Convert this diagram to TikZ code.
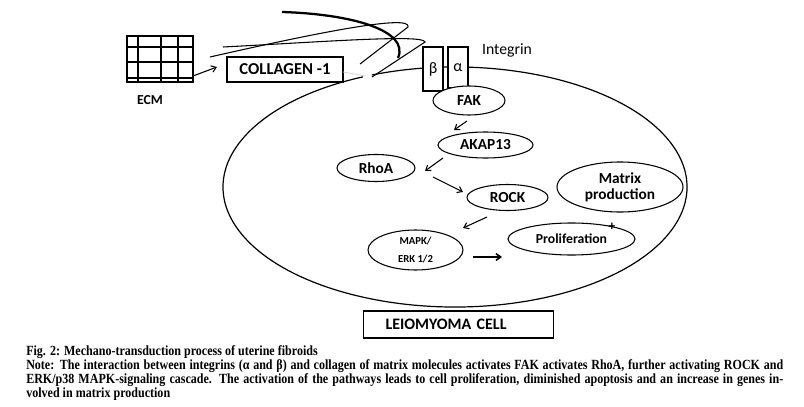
\documentclass[tikz,border=0pt]{standalone}
\usepackage{fontspec}
\setmainfont{Carlito}
\newfontfamily\capfont[FakeStretch=0.86]{Liberation Serif}
\usetikzlibrary{shapes.geometric,arrows.meta}
\begin{document}
\begin{tikzpicture}[x=0.75pt,y=-0.75pt,
 oval/.style={ellipse,draw,line width=0.8pt,fill=white,inner sep=0pt,align=center,font=\bfseries\fontsize{11.5}{12}\selectfont},
 boxn/.style={draw,line width=0.8pt,fill=white,inner sep=0pt},
 arr/.style={line width=0.8pt,-{Straight Barb[length=3.5pt,width=5pt]}},
 fiber/.style={line width=0.8pt},
 captext/.style={anchor=base west,inner sep=0pt,font=\capfont\bfseries\fontsize{10.5}{10.5}\selectfont}]
\useasboundingbox (0,0) rectangle (804,407);

% ECM grid
\node[boxn, line width=1.2pt, minimum width=49.5pt, minimum height=34.5pt] (grid) at (160,59) {};
\foreach \x in {138,161,178} \draw[line width=1pt] (\x,36) -- (\x,82);
\foreach \y in {47,62,78} \draw[line width=1pt] (127,\y) -- (193,\y);
\node[font=\bfseries\fontsize{10.3}{12}\selectfont] (ecm) at (150,100) {ECM};

% collagen box
\node[boxn, minimum width=87pt, minimum height=18.75pt, font=\bfseries\fontsize{12.5}{14}\selectfont] (coll) at (285,69.5) {COLLAGEN -1};
\coordinate (a0s) at (193,76); \coordinate (a0e) at (217,67);
\draw[arr] (a0s) -- (a0e);

% cell membrane
\draw[line width=0.9pt] (455,187) ++(249:232 and 120) arc[start angle=249, end angle=606.6, x radius=232, y radius=120];

% integrin
\node[boxn, minimum width=15pt, minimum height=33pt, font=\fontsize{12}{14}\selectfont] (beta) at (433,69) {β};
\node[boxn, minimum width=15pt, minimum height=30.75pt, font=\fontsize{12}{14}\selectfont] (alpha) at (458,67.5) {α};
\node[font=\fontsize{11.8}{14}\selectfont] (integ) at (507,50) {Integrin};

% collagen fibres
\draw[line width=1.7pt] (282,12) .. controls (350,14) and (410,30) .. (398,58);
\draw[fiber] (210,57) .. controls (320,32) and (412,14) .. (408,27) -- (360,64);
\draw[fiber] (223,47) .. controls (320,42) and (424,34) .. (425,42) -- (372,77);
\draw[gray!35, line width=0.6pt] (343,72) -- (366,76);

% signalling nodes
\node[oval, minimum width=54pt, minimum height=21.75pt] (fak) at (469,100.5) {FAK};
\node[oval, minimum width=71.25pt, minimum height=19.5pt] (akap) at (485.5,145) {AKAP13};
\node[oval, minimum width=58.5pt, minimum height=20.25pt] (rhoa) at (376,168) {RhoA};
\node[oval, minimum width=60.75pt, minimum height=19.5pt] (rock) at (507.5,197.5) {ROCK};
\node[oval, minimum width=94.5pt, minimum height=37.5pt] (matrix) at (620,187) {Matrix\\production};
\node[oval, minimum width=71.25pt, minimum height=30pt, font=\bfseries\fontsize{8}{14}\selectfont] (mapk) at (415.5,250) {MAPK/\\ERK 1/2};
\node[oval, minimum width=95.25pt, minimum height=24pt, font=\bfseries\fontsize{10.3}{12}\selectfont] (prolif) at (571.5,239) {Proliferation};
\node[font=\bfseries\fontsize{10}{12}\selectfont, inner sep=0pt] (plus) at (612,227) {+};

% arrows
\coordinate (a1s) at (467,121); \coordinate (a1e) at (454,130);
\coordinate (a2s) at (443,158); \coordinate (a2e) at (425,171);
\coordinate (a3s) at (433,177); \coordinate (a3e) at (463,192);
\coordinate (a4s) at (487,217); \coordinate (a4e) at (463,228);
\coordinate (a5s) at (473,257); \coordinate (a5e) at (502,257);
\draw[arr] (a1s) -- (a1e);
\draw[arr] (a2s) -- (a2e);
\draw[arr] (a3s) -- (a3e);
\draw[arr] (a4s) -- (a4e);
\draw[arr, line width=1.2pt] (a5s) -- (a5e);

% cell label
\node[boxn, anchor=west, minimum height=20.25pt, text width=109.5pt, inner xsep=16.5pt, align=left, font=\bfseries\fontsize{12}{14}\selectfont] (cellbox) at (363,324.5) {LEIOMYOMA CELL};

% caption
\node[captext] (c1) at (26,355) {Fig. 2: Mechano-transduction process of uterine fibroids};
\node[captext] (c2) at (26,369) {\makebox[567.75pt][s]{Note: The interaction between integrins (α and β) and collagen of matrix molecules activates FAK activates RhoA, further activating ROCK and}};
\node[captext] (c3) at (26,383) {\makebox[567.75pt][s]{ERK/p38 MAPK-signaling cascade. The activation of the pathways leads to cell proliferation, diminished apoptosis and an increase in genes in-}};
\node[captext] (c4) at (26,397) {volved in matrix production};
\end{tikzpicture}
\end{document}
